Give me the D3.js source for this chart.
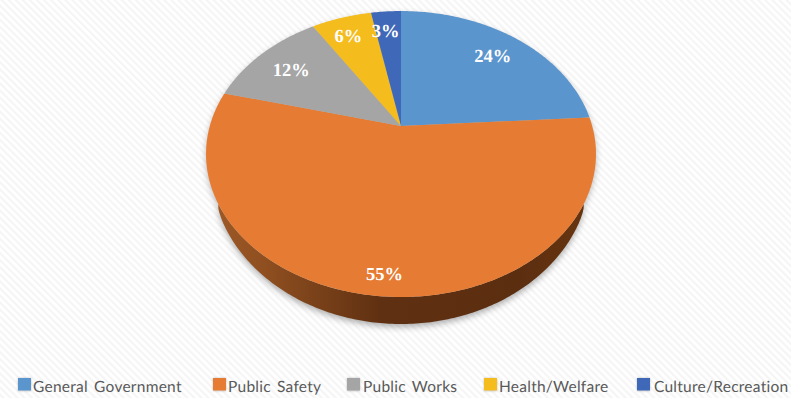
<!DOCTYPE html>
<html>
<head>
<meta charset="utf-8">
<script src="https://cdn.jsdelivr.net/npm/d3@7/dist/d3.min.js"></script>
<style>
html,body{margin:0;padding:0;background:#fff;overflow:hidden}
svg{display:block}
text{text-rendering:geometricPrecision}
</style>
</head>
<body>
<svg id="chart" width="791" height="398"></svg>
<script>
// Budget shares by function
const categories = ["General Government", "Public Safety", "Public Works", "Health/Welfare", "Culture/Recreation"];
const shares = [24, 55, 12, 6, 3];
const sliceColors = ["#5b95cd", "#e67c33", "#a5a5a5", "#f5bc1e", "#4068b8"];

// Layout
const width = 791, height = 398;
const apex = {x: 401, y: 126};   // where the slices meet on the tilted disc
const tilt = {a: 137.5, b: 191.2, k: 0.196};
const depth = 27;
const rimHalfWidth = 183;        // horizontal reach of the visible rim from the apex
const labelRadius = [0.78, 0.89, 0.75, 0.81, 0.8];
const labelNudge = [0, 3, -3, -3, -3];
const labelDrop = [6, 7, 6, 6, 6];
const legendX = [18, 213, 347, 484, 637];
const legendTextX = [33, 228, 363, 499, 654];

// Perspective projection of a disc point given as clockwise-from-top angle and radius fraction
function project(angle, r = 1) {
  const u = Math.sin(angle) * r, v = Math.cos(angle) * r;
  const w = 1 + tilt.k * v;
  return [apex.x + tilt.b * u / w, apex.y - tilt.a * v / w];
}
function sampleArc(a0, a1) {
  const n = Math.max(2, Math.ceil(Math.abs(a1 - a0) * 80));
  return d3.range(n + 1).map(i => project(a0 + (a1 - a0) * i / n));
}

const pie = d3.pie().value(d => d).sort(null);
const arcs = pie(shares);
const line = d3.line();
const svg = d3.select("#chart");
const defs = svg.append("defs");

// Faint diagonal hatching of the page background
const hatch = defs.append("pattern")
  .attr("id", "hatch").attr("width", 5).attr("height", 5)
  .attr("patternUnits", "userSpaceOnUse").attr("patternTransform", "rotate(-45)");
hatch.append("rect").attr("width", 5).attr("height", 5).attr("fill", "#ffffff");
hatch.append("rect").attr("width", 2.2).attr("height", 5).attr("fill", "#f5f5f5");

const wallGrad = defs.append("linearGradient")
  .attr("id", "wall").attr("gradientUnits", "userSpaceOnUse")
  .attr("x1", 206).attr("x2", 596).attr("y1", 0).attr("y2", 0);
[[0, "#a05a28"], [0.15, "#8f4f20"], [0.45, "#5f3011"], [0.8, "#5c2e10"], [1, "#68350f"]]
  .forEach(([o, c]) => wallGrad.append("stop").attr("offset", o).attr("stop-color", c));

defs.append("filter").attr("id", "soft").attr("x", "-10%").attr("y", "-10%").attr("width", "120%").attr("height", "120%")
  .append("feGaussianBlur").attr("stdDeviation", 3);
defs.append("filter").attr("id", "swatchSoft").attr("x", "-30%").attr("y", "-30%").attr("width", "160%").attr("height", "160%")
  .append("feGaussianBlur").attr("stdDeviation", 1);

svg.append("rect").attr("width", width).attr("height", height).attr("fill", "url(#hatch)");

// Disc outline, plus the rim whose thickness fades out toward both sides
const rim = sampleArc(0, 2 * Math.PI);
const lower = sampleArc(Math.PI * 0.5, Math.PI * 1.5)
  .filter(p => Math.abs(p[0] - apex.x) <= rimHalfWidth);
const rimDepth = p => depth * Math.pow(1 - ((p[0] - apex.x) / rimHalfWidth) ** 2, 0.33);
const wallPath = line(lower) + "L" + lower.slice().reverse().map(p => [p[0], p[1] + rimDepth(p)]).join("L") + "Z";

// Soft shadow under the disc and rim
svg.append("path").attr("d", line(rim) + "Z").attr("fill", "#777").attr("opacity", 0.5)
  .attr("transform", "translate(0,3)").attr("filter", "url(#soft)");
svg.append("path").attr("d", wallPath).attr("fill", "#777").attr("opacity", 0.6)
  .attr("transform", "translate(0,3)").attr("filter", "url(#soft)");
svg.append("path").attr("d", wallPath).attr("fill", "url(#wall)");

// Slices
svg.append("g").selectAll("path").data(arcs).join("path")
  .attr("d", d => line([[apex.x, apex.y], ...sampleArc(d.startAngle, d.endAngle)]) + "Z")
  .attr("fill", (d, i) => sliceColors[i]);

// Percentage labels
svg.append("g").selectAll("text").data(arcs).join("text")
  .attr("transform", (d, i) => {
    const [x, y] = project((d.startAngle + d.endAngle) / 2, labelRadius[i]);
    return `translate(${x + labelNudge[i]},${y + labelDrop[i]})`;
  })
  .attr("text-anchor", "middle")
  .attr("font-family", "'Liberation Serif', serif")
  .attr("font-weight", "bold").attr("font-size", 18.5)
  .attr("fill", "#fff")
  .text(d => d.value + "%");

// Legend
const legend = svg.append("g").selectAll("g").data(categories).join("g");
legend.append("rect").attr("x", (d, i) => legendX[i]).attr("y", 378).attr("width", 13).attr("height", 13)
  .attr("fill", "#999").attr("opacity", 0.6).attr("filter", "url(#swatchSoft)");
legend.append("rect").attr("x", (d, i) => legendX[i]).attr("y", 378).attr("width", 13).attr("height", 12.5)
  .attr("fill", (d, i) => sliceColors[i]);
legend.append("text").attr("x", (d, i) => legendTextX[i]).attr("y", 392)
  .attr("font-family", "Lato, sans-serif").attr("font-size", 15.5)
  .attr("letter-spacing", 0.25).attr("word-spacing", 2)
  .attr("fill", "#595959").text(d => d);
</script>
</body>
</html>
